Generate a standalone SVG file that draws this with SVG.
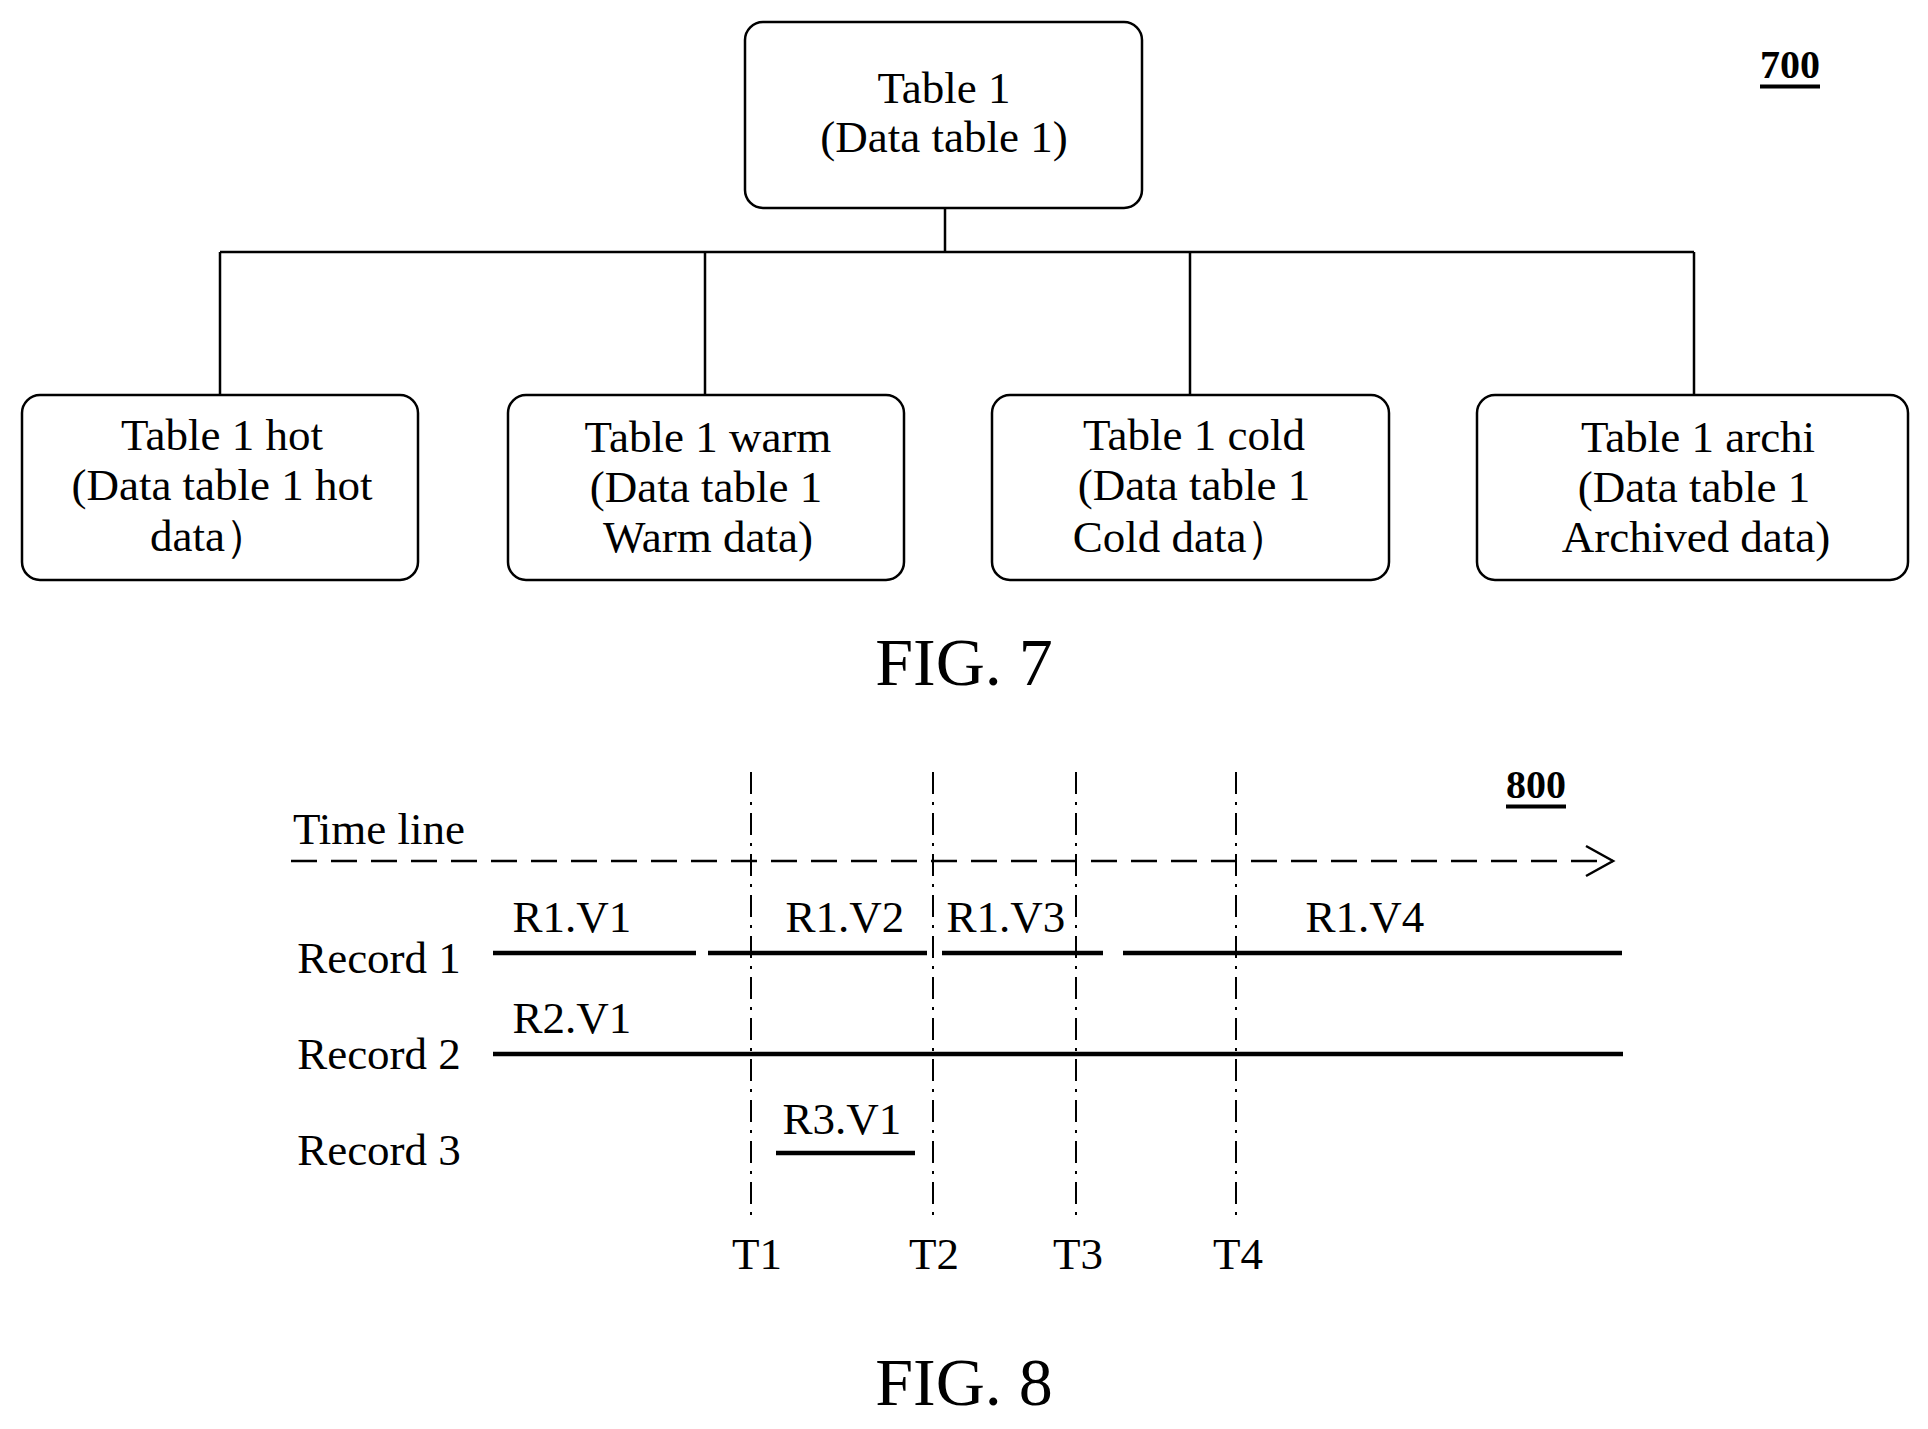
<svg xmlns="http://www.w3.org/2000/svg" width="1928" height="1429" viewBox="0 0 1928 1429">
<style>
text{font-family:"Liberation Serif","Times New Roman",serif;fill:#000;text-anchor:middle;dominant-baseline:central}
.n{font-size:45px}
.fig{font-size:68px}
.box{fill:#fff;stroke:#000;stroke-width:2.5}
.c{stroke:#000;stroke-width:2.5;fill:none}
.dd{stroke:#000;stroke-width:2;stroke-dasharray:22 8 3 8;fill:none}
.rec{stroke:#000;stroke-width:4.5;fill:none}
.ref{font-size:40px;font-weight:bold;text-decoration:underline}
</style>
<g id="connectors">
<path class="c" d="M945 208V252M220 252H1694M220 252V395M705 252V395M1190 252V395M1694 252V395"/>
</g>
<g id="table1"><rect class="box" x="745" y="22" width="397" height="186" rx="18"/>
<text class="n" x="944" y="88">Table 1</text><text class="n" x="944" y="137">(Data table 1)</text></g>
<g id="hot"><rect class="box" x="22" y="395" width="396" height="185" rx="18"/>
<text class="n" x="222" y="435">Table 1 hot</text><text class="n" x="222" y="485">(Data table 1 hot</text><text class="n" x="210" y="536">data）</text></g>
<g id="warm"><rect class="box" x="508" y="395" width="396" height="185" rx="18"/>
<text class="n" x="708" y="437">Table 1 warm</text><text class="n" x="706" y="487">(Data table 1</text><text class="n" x="708" y="537">Warm data)</text></g>
<g id="cold"><rect class="box" x="992" y="395" width="397" height="185" rx="18"/>
<text class="n" x="1194" y="435">Table 1 cold</text><text class="n" x="1194" y="485">(Data table 1</text><text class="n" x="1182" y="537">Cold data）</text></g>
<g id="archi"><rect class="box" x="1477" y="395" width="431" height="185" rx="18"/>
<text class="n" x="1698" y="437">Table 1 archi</text><text class="n" x="1694" y="487">(Data table 1</text><text class="n" x="1696" y="537">Archived data)</text></g>
<text class="ref" x="1790" y="64">700</text>
<text class="fig" x="964" y="662">FIG. 7</text>

<g id="fig8">
<text class="ref" x="1536" y="784">800</text>
<text class="n" x="379" y="829">Time line</text>
<path class="c" d="M291 861H1613" stroke-dasharray="26 14"/>
<path class="c" d="M1586 846L1613 861L1586 876"/>
<path class="dd" d="M751 772V1217M933 772V1217M1076 772V1217M1236 772V1217"/>
<text class="n" x="757" y="1254">T1</text><text class="n" x="934" y="1254">T2</text><text class="n" x="1078" y="1254">T3</text><text class="n" x="1238" y="1254">T4</text>
<text class="n" x="379" y="958">Record 1</text><text class="n" x="379" y="1054">Record 2</text><text class="n" x="379" y="1150">Record 3</text>
<path class="rec" d="M493 953H696M708 953H927M942 953H1103M1123 953H1622M493 1054H1623M776 1153H915"/>
<text class="n" x="572" y="917">R1.V1</text><text class="n" x="845" y="917">R1.V2</text><text class="n" x="1006" y="917">R1.V3</text><text class="n" x="1365" y="917">R1.V4</text>
<text class="n" x="572" y="1018">R2.V1</text><text class="n" x="842" y="1119">R3.V1</text>
<text class="fig" x="964" y="1382">FIG. 8</text>
</g>
</svg>
